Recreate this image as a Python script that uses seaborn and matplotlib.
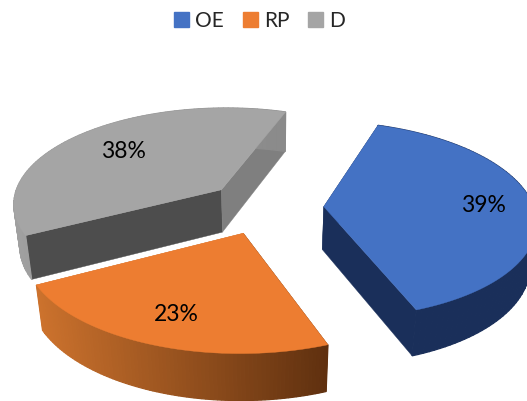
import numpy as np
import matplotlib
matplotlib.use("Agg")
import matplotlib.pyplot as plt
from matplotlib.patches import Patch, Polygon
import seaborn as sns

# Data
categories = ["OE", "RP", "D"]
values = [39, 23, 38]
labels = ["39%", "23%", "38%"]

# Colours: top face, outer wall (left/right end), radial walls
top_colors = sns.color_palette(["#4472C4", "#ED7D31", "#A5A5A5"])
wall_left = ["#1A2F5A", "#CC722D", "#A0A0A0"]
wall_right = ["#1A2F5A", "#5F300F", "#8A8A8A"]
edge_start = ["#1A2F5A", "#5F300F", "#4D4D4D"]
edge_end = ["#1A2F5A", "#CC722D", "#7F7F7F"]

# Camera settings for the tilted pie
start_angle = 71      # first slice starts here, going clockwise
explode = 0.28
label_radius = [0.76, 0.76, 0.68]
u0, v0 = 265, 207
scale = 210
squash = 0.461
persp = 0.132
depth = 44
depth_persp = 0.025

sns.set_theme(style="white")
plt.rcParams["font.family"] = ["Lato", "DejaVu Sans"]


def project(x, y, z=0.0):
    w = 1 + persp * y + depth_persp * z
    return np.column_stack([u0 + scale * x / w, v0 - scale * squash * y / w + depth * z / w])


fig, ax = plt.subplots(figsize=(5.27, 4.01), dpi=100)
fig.subplots_adjust(left=0, right=1, bottom=0, top=1)
ax.set_xlim(0, 527)
ax.set_ylim(401, 0)
ax.axis("off")

angle = start_angle
for i, val in enumerate(values):
    sweep = val * 3.6
    t = np.radians(np.linspace(angle, angle - sweep, 90))
    mid = np.radians(angle - sweep / 2)
    ox, oy = explode * np.cos(mid), explode * np.sin(mid)
    arc_x, arc_y = ox + np.cos(t), oy + np.sin(t)

    # radial walls
    for j, col in ((0, edge_start[i]), (-1, edge_end[i])):
        xs = np.array([ox, arc_x[j], arc_x[j], ox])
        ys = np.array([oy, arc_y[j], arc_y[j], oy])
        zs = np.array([0, 0, 1, 1])
        w = 1 + persp * ys + depth_persp * zs
        pts = np.column_stack([u0 + scale * xs / w, v0 - scale * squash * ys / w + depth * zs / w])
        ax.add_patch(Polygon(pts, closed=True, fc=col, ec=col, lw=0.3, zorder=2 + i * 0.1))

    # outer wall as thin strips so the shade can run across it
    top = project(arc_x, arc_y, 0)
    bot = project(arc_x, arc_y, 1)
    c0 = np.array(matplotlib.colors.to_rgb(wall_left[i]))
    c1 = np.array(matplotlib.colors.to_rgb(wall_right[i]))
    xmin, xmax = top[:, 0].min(), top[:, 0].max()
    for k in range(len(t) - 1):
        pts = [top[k], top[k + 1], bot[k + 1], bot[k]]
        f = ((top[k, 0] + top[k + 1, 0]) / 2 - xmin) / (xmax - xmin)
        col = c0 + (c1 - c0) * f
        ax.add_patch(Polygon(pts, closed=True, fc=col, ec=col, lw=0.9, zorder=3 + i * 0.1))

    # top face
    face = np.vstack([project(np.array([ox]), np.array([oy])), top])
    ax.add_patch(Polygon(face, closed=True, fc=top_colors[i], ec=top_colors[i], lw=0.3, zorder=4 + i * 0.1))

    # percent label
    lx = (explode + label_radius[i]) * np.cos(mid)
    ly = (explode + label_radius[i]) * np.sin(mid)
    p = project(np.array([lx]), np.array([ly]))[0]
    ax.text(p[0], p[1], labels[i], ha="center", va="center", fontsize=16.5, color="black", zorder=6)

    angle -= sweep

handles = [Patch(fc=c, ec=c) for c in top_colors]
ax.legend(handles, categories, loc="upper center", bbox_to_anchor=(0.4925, 1.02), ncol=3, frameon=False,
          fontsize=15, handlelength=0.72, handleheight=0.72, handletextpad=0.3, columnspacing=0.9)

fig.savefig("out.png", dpi=100)
